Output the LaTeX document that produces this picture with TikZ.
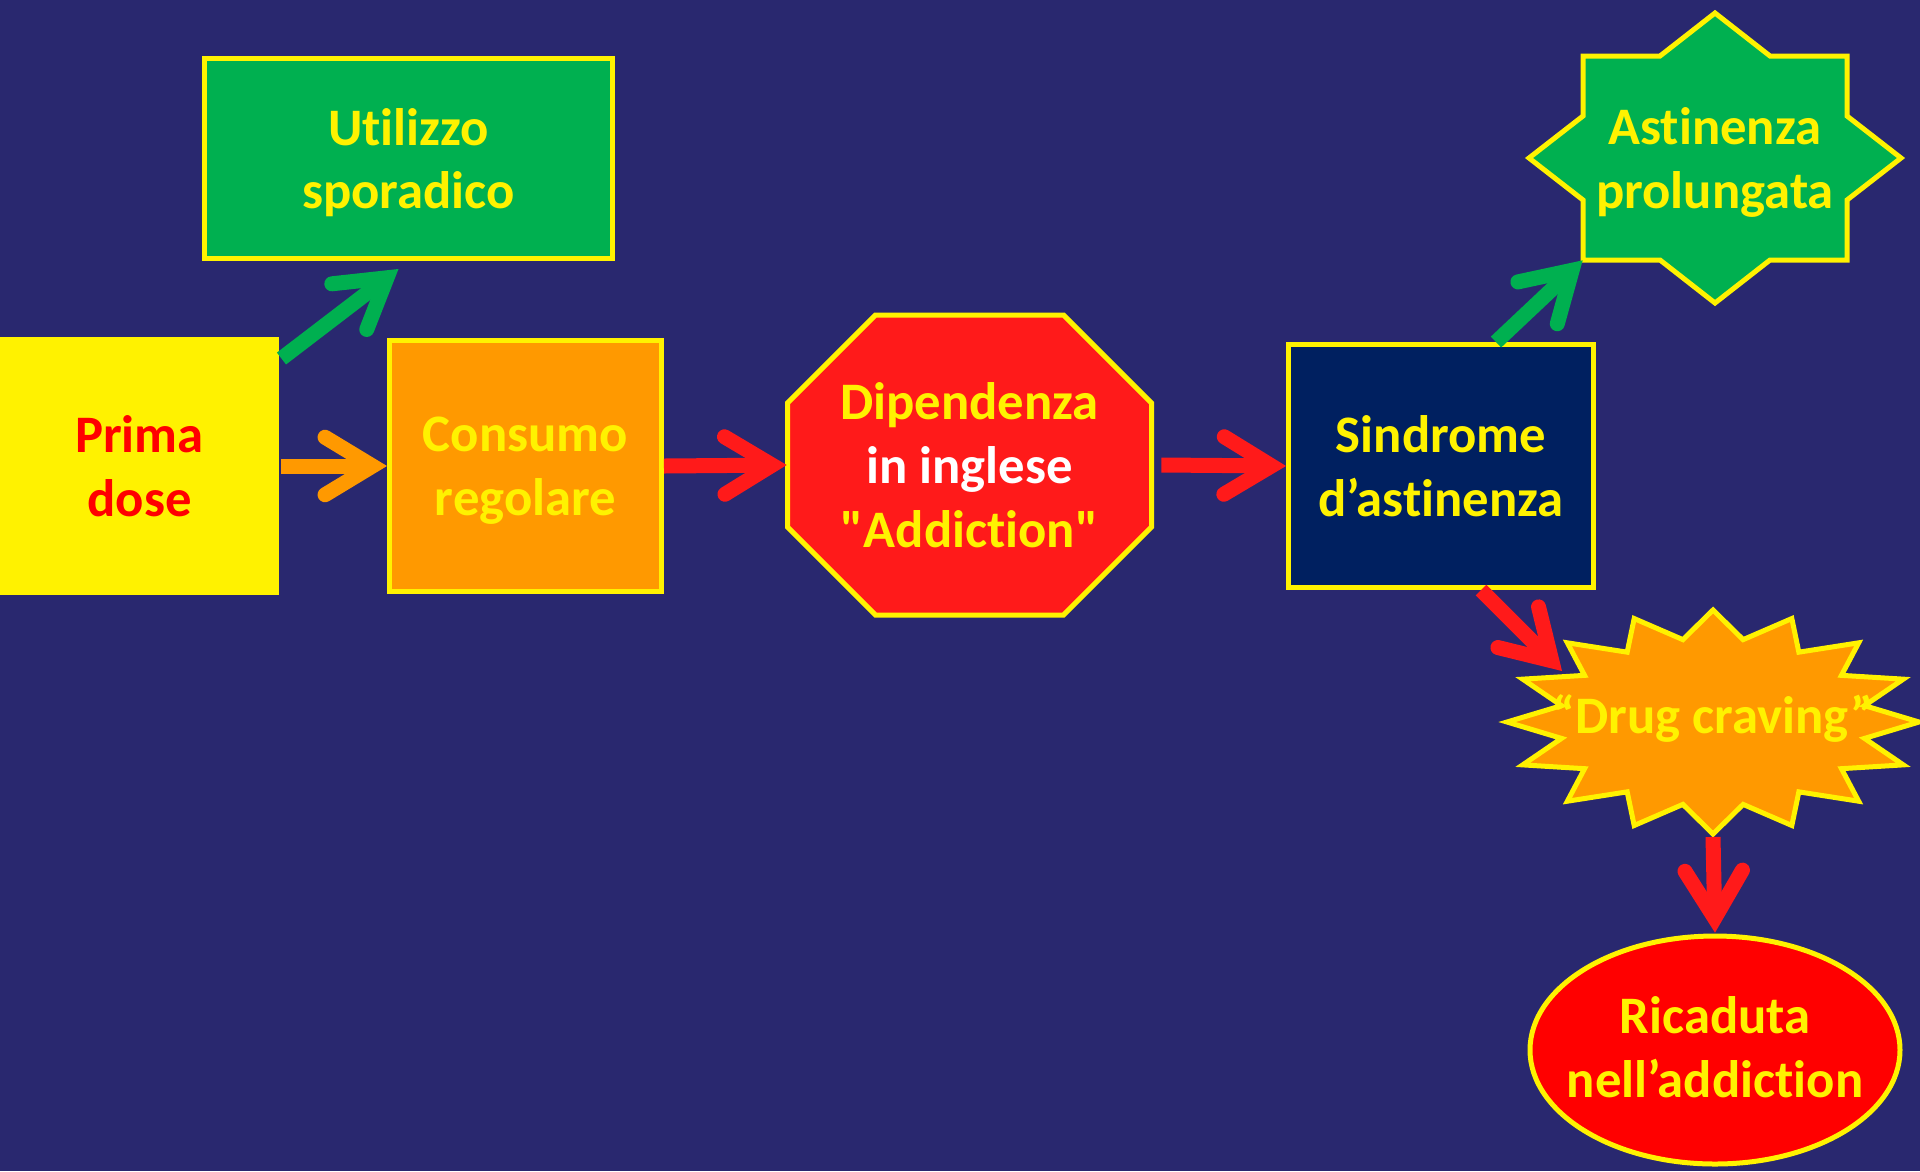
\documentclass[tikz,border=0pt]{standalone}
\usepackage{fontspec}
\setmainfont{Carlito}[Ligatures={TeXOff,NoCommon}]
\usetikzlibrary{arrows.meta}

\definecolor{sfondo}{HTML}{29286F}
\definecolor{verde}{HTML}{00B050}
\definecolor{arancio}{HTML}{FF9900}
\definecolor{rossoB}{HTML}{FF1A1A}
\definecolor{rossoE}{HTML}{FF0000}
\definecolor{blu}{HTML}{002060}

\tikzset{
  forma/.style={draw=yellow, line width=0.1cm},
  riquadro/.style={forma, align=center, inner sep=0pt, text depth=0pt, text=yellow},
  testo/.style={align=center, inner sep=0pt, text depth=0pt, text=yellow},
  freccia/.style={->, line width=0.3cm},
}

\begin{document}
\begin{tikzpicture}[>={Straight Barb[length=0.95cm, width=1.15cm, line cap=round, line join=miter]},
    x=0.02cm, y=-0.02cm, font=\bfseries\fontsize{30}{36.4}\selectfont]
    % sfondo
    \useasboundingbox (0,0) rectangle (1920,1171);
    \fill[sfondo] (0,0) rectangle (1920,1171);

    % riquadri
    \node[riquadro, draw=none, fill=yellow, text=rossoE, minimum width=5.58cm, minimum height=5.16cm] (prima) at (139.5,466) {Prima\\dose};
    \node[riquadro, fill=verde, minimum width=8.16cm, minimum height=4cm] (util) at (408.5,158.5) {Utilizzo\\sporadico};
    \node[riquadro, fill=arancio, minimum width=5.44cm, minimum height=5.02cm] (cons) at (525.5,466) {Consumo\\regolare};
    \node[riquadro, fill=blu, minimum width=6.1cm, minimum height=4.86cm] (sind) at (1441,466) {Sindrome\\d’astinenza};

    % ottagono
    \filldraw[forma, fill=rossoB, shift={(969.5,465)}] (-182,-62) -- ++(88,-88) -- ++(188,0) -- ++(88,88)
        -- ++(0,124) -- ++(-88,88) -- ++(-188,0) -- ++(-88,-88) -- cycle;
    \node[testo, minimum width=7.3cm, minimum height=6cm] (dip) at (969.5,465)
        {Dipendenza\\\textcolor{white}{in inglese}\\"Addiction"};

    % stella a otto punte
    \filldraw[forma, fill=verde, shift={(1715,158)}] (0,-145) -- (55,-102) -- (132,-102) -- (132,-42) -- (186,0)
        -- (132,42) -- (132,102) -- (55,102) -- (0,145) -- (-55,102) -- (-132,102) -- (-132,42)
        -- (-186,0) -- (-132,-42) -- (-132,-102) -- (-55,-102) -- cycle;
    \node[testo, minimum width=5.28cm, minimum height=4.08cm] (astin) at (1715,158) {Astinenza\\prolungata};

    % esplosione a sedici punte
    \filldraw[forma, fill=arancio, shift={(1713,722)}] (0:206 and 112)
        \foreach \i [evaluate=\i as \r using {mod(\i,2)==0 ? 1 : 0.75}] in {1,...,31} { -- ({\i*11.25}:{206*\r} and {112*\r}) } -- cycle;
    \node[testo] (drug) at (1713,714) {“Drug craving”};

    % ellisse
    \filldraw[forma, fill=rossoE] (1715,1050) ellipse [x radius=185, y radius=114];
    \node[testo, minimum width=7.4cm, minimum height=4.56cm] (rica) at (1715,1047) {Ricaduta\\nell’addiction};

    % frecce
    \draw[freccia, verde] ([yshift=-0.48cm]prima.north east) -- ([xshift=-0.2cm, yshift=-0.16cm]util.south);
    \draw[freccia, arancio] (prima.east) -- (cons.west);
    \draw[freccia, rossoB] (cons.east) -- (dip.west);
    \draw[freccia, rossoB] ([xshift=0.18cm]dip.east) -- (sind.west);
    \draw[freccia, verde] ([xshift=1.1cm]sind.north) -- (astin.south west);
    \draw[freccia, rossoB] ([xshift=0.8cm]sind.south) -- ([shift={(-3.02cm,0.86cm)}]drug.center);
    \draw[freccia, rossoB] ([yshift=-2.46cm]drug.center) -- (rica.north);
\end{tikzpicture}
\end{document}
